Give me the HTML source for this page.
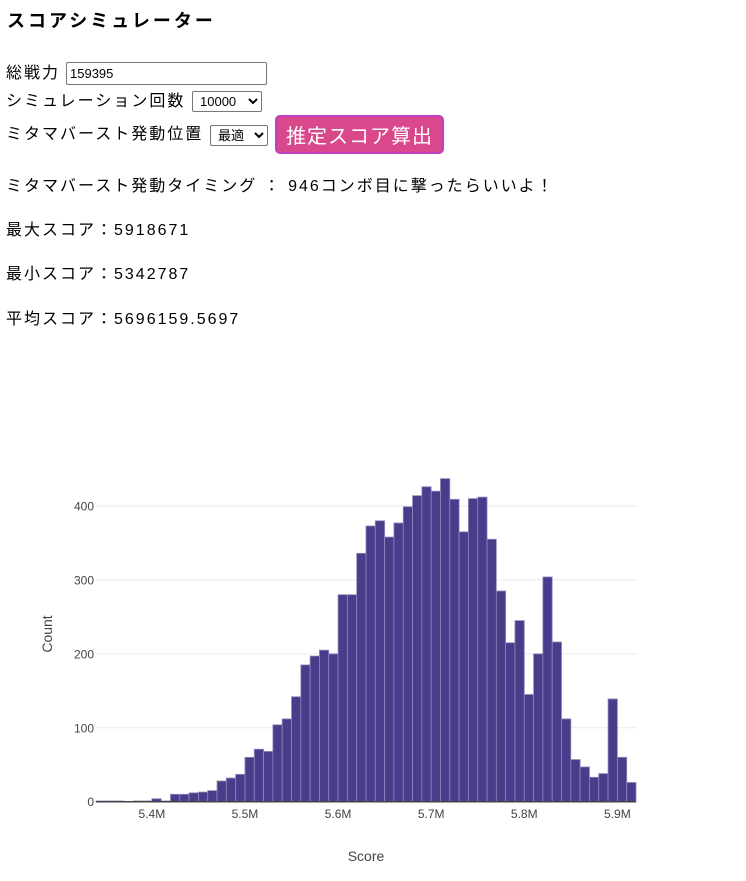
<!DOCTYPE html>
<html><head><meta charset="utf-8">
<style>
body{margin:0;width:746px;height:881px;background:#fff;font-family:"Liberation Sans","Noto Sans CJK JP",sans-serif;color:#000;position:relative;overflow:hidden}
.a{position:absolute;white-space:nowrap;font-size:16px;line-height:18px;letter-spacing:2px}
input,select{font-family:"Liberation Sans","Noto Sans CJK JP",sans-serif;font-size:13px;border:1px solid #767676;border-radius:2px;background:#fff;box-sizing:border-box;position:absolute;padding:0 3px}
button{position:absolute;background:#d9488a;color:#fff;border:2px solid #c040c0;border-radius:5px;font-size:20px;font-family:"Liberation Sans","Noto Sans CJK JP",sans-serif;padding:0 4px;box-sizing:border-box;letter-spacing:1px}
</style></head><body>
<div class="a" style="left:7px;top:11px;font-size:18px;font-weight:bold;line-height:20px;letter-spacing:3px">スコアシミュレーター</div>
<div class="a" style="left:6px;top:65px">総戦力</div>
<input value="159395" style="left:66px;top:62px;width:201px;height:23px">
<div class="a" style="left:6px;top:93px">シミュレーション回数</div>
<select style="left:192px;top:91px;width:70px;height:21px"><option>10000</option></select>
<div class="a" style="left:6px;top:126px">ミタマバースト発動位置</div>
<select style="left:210px;top:125px;width:58px;height:21px"><option>最適</option></select>
<button style="left:275px;top:115px;width:169px;height:39px">推定スコア算出</button>
<div class="a" style="left:6px;top:178px">ミタマバースト発動タイミング ： 946コンボ目に撃ったらいいよ！</div>
<div class="a" style="left:6px;top:222px">最大スコア：5918671</div>
<div class="a" style="left:6px;top:266px">最小スコア：5342787</div>
<div class="a" style="left:6px;top:311px">平均スコア：5696159.5697</div>
<svg id="chart" width="746" height="881" style="position:absolute;left:0;top:0"></svg>
<script>
const binStart = 5.34;
const binWidth = 0.01;
const counts = [1,1,1,0,1,1,4,1,10,10,12,13,15,28,32,37,60,71,68,104,112,142,185,197,205,200,280,280,336,373,380,358,377,399,414,426,420,437,409,365,410,412,355,285,215,245,145,200,304,216,112,57,47,33,38,139,60,26];
const xTicks = [5.4,5.5,5.6,5.7,5.8,5.9];
const xTickLabels = ["5.4M","5.5M","5.6M","5.7M","5.8M","5.9M"];
const yTicks = [0,100,200,300,400];
const NS="http://www.w3.org/2000/svg";
const svg=document.getElementById('chart');
const X0=96,X1=636,Y0=801.7,Y4=506;
const xMin=binStart,xMax=binStart+binWidth*counts.length;
const sx=v=>X0+(v-xMin)/(xMax-xMin)*(X1-X0);
const sy=v=>Y0-(v/400)*(Y0-Y4);
function mk(t,a){const e=document.createElementNS(NS,t);for(const k in a)e.setAttribute(k,a[k]);svg.appendChild(e);return e;}
yTicks.forEach(t=>{
  if(t>0){const g=mk('line',{x1:X0,x2:X1,y1:sy(t),y2:sy(t),stroke:'#ebebeb','stroke-width':1});
  
  }
  const l=mk('text',{x:X0-2,y:sy(t)+4.5,'text-anchor':'end','font-size':12,fill:'#444','font-family':'Liberation Sans, sans-serif'});
  l.textContent=t;
  
  
});
counts.forEach((c,i)=>{
  const xa=sx(binStart+i*binWidth),xb=sx(binStart+(i+1)*binWidth);
  const r=mk('rect',{x:xa,y:sy(c),width:xb-xa,height:Y0-sy(c),fill:'#483d8b',stroke:'#8f88bb','stroke-width':0.8});
  
  
});
const ax=mk('line',{x1:X0,x2:X1,y1:Y0,y2:Y0,stroke:'#444','stroke-width':1.5});


xTicks.forEach((t,i)=>{
  const l=mk('text',{x:sx(t),y:818,'text-anchor':'middle','font-size':12,fill:'#444','font-family':'Liberation Sans, sans-serif'});
  l.textContent=xTickLabels[i];
  
  
});
const xt=mk('text',{x:366,y:861,'text-anchor':'middle','font-size':14,fill:'#444','font-family':'Liberation Sans, sans-serif'});
xt.textContent='Score';


const yt=mk('text',{x:0,y:0,'text-anchor':'middle','font-size':14,fill:'#444','font-family':'Liberation Sans, sans-serif',transform:'translate(52,634) rotate(-90)'});
yt.textContent='Count';


</script>
</body></html>
